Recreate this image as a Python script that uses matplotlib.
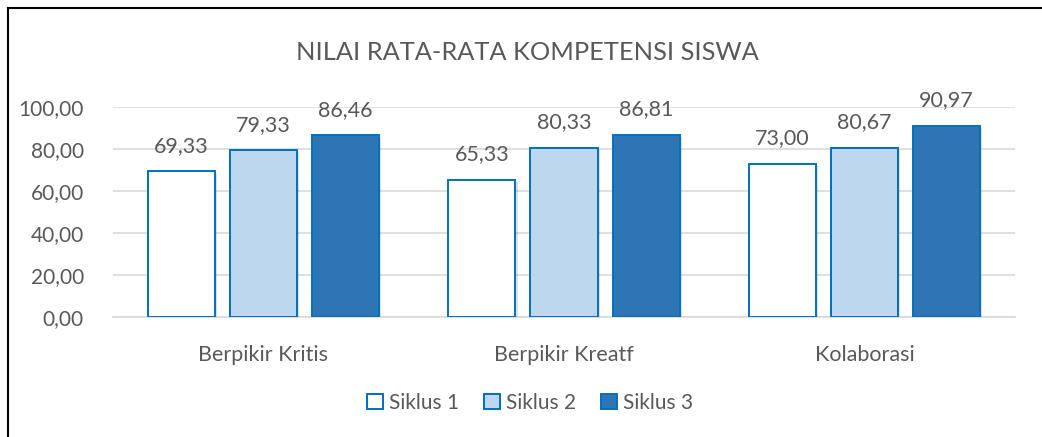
import numpy as np
import matplotlib as m

m.use('Agg')

import matplotlib.pyplot as plt
from matplotlib.patches import Patch
import matplotlib.patheffects as pe

# data
categories = ['Berpikir Kritis', 'Berpikir Kreatf', 'Kolaborasi']
series_names = ['Siklus 1', 'Siklus 2', 'Siklus 3']
siklus1 = [69.33, 65.33, 73.00]
siklus2 = [79.33, 80.33, 80.67]
siklus3 = [86.46, 86.81, 90.97]
yticks = [0, 20, 40, 60, 80, 100]


def fmt(v):
  return ('%.2f' % v).replace('.', ',')


def main():
  plt.rcParams['font.family'] = ['Lato', 'DejaVu Sans']
  txt = '#595959'
  fills = ['#FFFFFF', '#BDD7EE', '#2E75B6']
  edge = '#0070C0'

  fig = plt.figure(figsize=(10.42, 4.37), dpi=100)
  ax = fig.add_axes([113/1042., 1 - 317/437., (1015-113)/1042., 210/437.])

  x = np.arange(len(categories))
  w = 0.223
  step = 0.273
  for i, vals in enumerate([siklus1, siklus2, siklus3]):
    bars = ax.bar(x + (i-1)*step, vals, w, color=fills[i], edgecolor=edge, linewidth=1.4,
                  zorder=3, label=series_names[i])
    for b in bars:
      b.set_path_effects([pe.SimplePatchShadow(offset=(1.5, -1.5), shadow_rgbFace='#000000', alpha=0.12), pe.Normal()])
    for xi, v in zip(x + (i-1)*step, vals):
      ax.text(xi, v + 7.5, fmt(v), ha='center', va='bottom', fontsize=15.5, color=txt)

  ax.set_xlim(-0.5, 2.5)
  ax.set_ylim(0, 100)
  ax.set_yticks(yticks)
  ax.set_yticklabels([fmt(t) for t in yticks], fontsize=15, color=txt)
  ax.set_xticks(x)
  ax.set_xticklabels(categories, fontsize=15.5, color=txt)
  ax.tick_params(length=0)
  ax.tick_params(axis='y', pad=21)
  ax.tick_params(axis='x', pad=20)
  ax.grid(axis='y', color='#D9D9D9', linewidth=1.2, zorder=0)
  for s in ['top', 'right', 'left']:
    ax.spines[s].set_visible(False)
  ax.spines['bottom'].set_color('#D9D9D9')
  ax.spines['bottom'].set_linewidth(1.2)
  ax.set_axisbelow(True)

  fig.text(527/1042., 1 - 52/437., 'NILAI RATA-RATA KOMPETENSI SISWA', ha='center', va='center',
           fontsize=18.3, color=txt)

  handles = [Patch(facecolor=fills[i], edgecolor=edge, linewidth=1.4) for i in range(3)]
  fig.legend(handles, series_names, loc='center', bbox_to_anchor=(530/1042., 1 - 403/437.),
             ncol=3, frameon=False, fontsize=15, handlelength=0.75, handleheight=0.75,
             handletextpad=0.3, columnspacing=1.2, labelcolor=txt)

  # chart frame (only left and top edges are in view)
  fig.add_artist(plt.Line2D([8/1042., 8/1042.], [0, 1 - 8/437.], color='black', linewidth=1.5))
  fig.add_artist(plt.Line2D([8/1042., 1], [1 - 8/437., 1 - 8/437.], color='black', linewidth=1.5))

  plt.savefig('out.png', dpi=100)


if __name__ == '__main__':
  main()
